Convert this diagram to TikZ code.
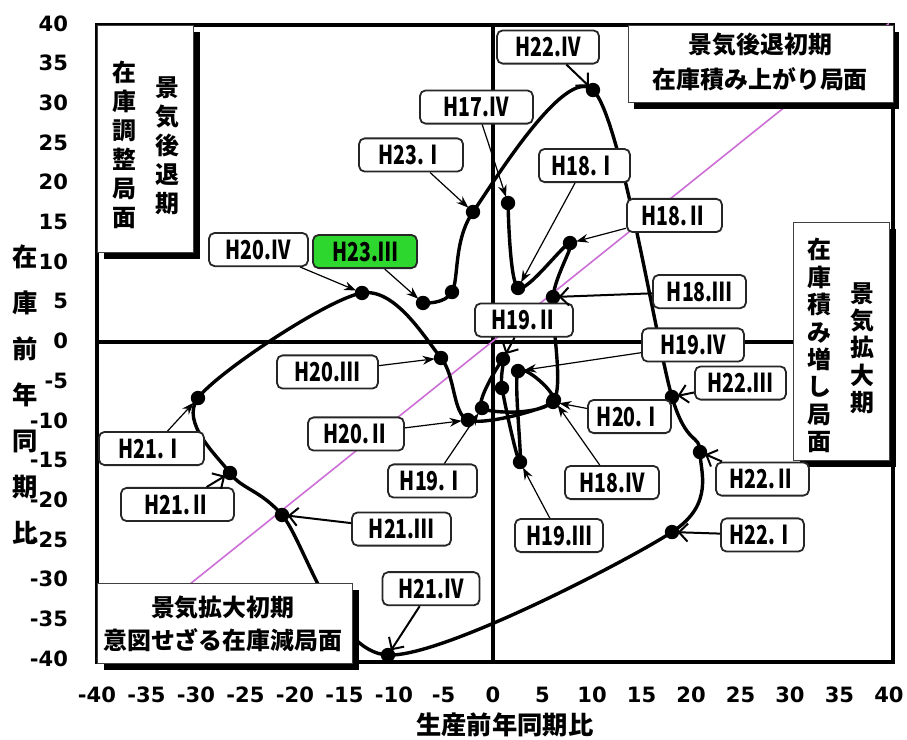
\documentclass[tikz,border=0pt]{standalone}
\usepackage{fontspec}
\setmainfont{DejaVu Sans}
\newfontfamily\jpfont{Noto Sans CJK JP}
\newfontfamily\jpnarrow[FakeStretch=0.75]{Noto Sans CJK JP}
\usetikzlibrary{arrows.meta,shadows}
\definecolor{diagline}{RGB}{205,110,215}
\definecolor{nowgreen}{RGB}{45,215,45}

\tikzset{
  qbox/.style={draw=black!85, line width=0.45mm, rounded corners=1.4mm, fill=white,
    minimum height=8.3mm, inner xsep=0.8mm, inner ysep=0pt,
    font=\jpnarrow\bfseries\fontsize{18.5}{20}\selectfont},
  phasebox/.style={draw=black!75, line width=0.3mm, fill=white, inner sep=0pt,
    anchor=north west,
    general shadow={fill=black, shadow xshift=1.5mm, shadow yshift=-1.5mm}},
  phasetext/.style={font=\jpfont\bfseries\fontsize{17}{#1}\selectfont,
    align=center, inner sep=0pt},
  lead/.style={line width=0.3mm, -{Stealth[length=3mm, width=2.2mm]}, shorten >=1.6mm},
  leadbarb/.style={line width=0.5mm, -{Straight Barb[length=2.2mm, width=4.5mm]}, shorten >=1.4mm},
  trend/.style={line width=0.85mm, line join=round},
  ytick/.style={anchor=east, inner sep=0pt, font=\bfseries\fontsize{15}{15}\selectfont},
  xtick/.style={inner sep=0pt, font=\bfseries\fontsize{15}{15}\selectfont},
  axtitle/.style={inner sep=0pt, align=center, font=\jpfont\bfseries\fontsize{18}{#1}\selectfont},
}

\begin{document}
\begin{tikzpicture}[x=2.475mm, y=1.985mm]
\useasboundingbox (-49.8,-50.25) rectangle (41.82,42.95);

% frame, axes and the 45 degree line
\draw[line width=1mm] (-40,-40.4) rectangle (40.4,39.8);
\draw[line width=1mm] (-40,-0.1) -- (40.4,-0.1);
\draw[line width=1mm] (0,-40.4) -- (0,39.8);
\draw[diagline, line width=0.4mm] (-40,-40) -- (40,40);

% tick labels
\foreach \v in {-40,-35,...,40} {
  \node[ytick] (yt\v) at (-42.9,\v) {\v};
  \node[xtick] (xt\v) at (\v,-44.6) {\v};
}
\node[axtitle=32.7pt] (ytitle) at (-47.3,-6.74) {在\\庫\\前\\年\\同\\期\\比};
\node[axtitle=20pt] (xtitle) at (1.2,-48.4) {生産前年同期比};

% quarterly points
\coordinate (p-17-4) at (1.52,17.38);
\coordinate (p-18-1) at (2.53,6.68);
\coordinate (p-18-2) at (7.78,12.34);
\coordinate (p-18-3) at (6.06,5.54);
\coordinate (p-18-4) at (6.16,-7.43);
\coordinate (p-19-1) at (-1.11,-8.44);
\coordinate (p-19-2) at (1.01,-2.27);
\coordinate (p-19-2b) at (0.91,-5.92);
\coordinate (p-19-3) at (2.73,-15.24);
\coordinate (p-19-4) at (2.53,-3.78);
\coordinate (p-20-1) at (6.06,-7.68);
\coordinate (p-20-2) at (-2.53,-9.95);
\coordinate (p-20-3) at (-5.25,-2.14);
\coordinate (p-20-4) at (-13.23,6.05);
\coordinate (p-21-1) at (-29.8,-7.18);
\coordinate (p-21-2) at (-26.57,-16.62);
\coordinate (p-21-3) at (-21.31,-21.91);
\coordinate (p-21-4) at (-10.61,-39.55);
\coordinate (p-22-1) at (18.08,-24.06);
\coordinate (p-22-2) at (20.91,-13.98);
\coordinate (p-22-3) at (18.08,-7.05);
\coordinate (p-22-4) at (10.10,31.61);
\coordinate (p-23-1) at (-2.02,16.25);
\coordinate (p-23-2) at (-4.14,6.17);
\coordinate (p-23-3) at (-7.07,4.79);

\draw[trend] plot[smooth, tension=0.5] coordinates {(p-17-4) (p-18-1) (p-18-2) (p-18-3)
  (p-18-4) (p-19-1) (p-19-2) (p-19-2b) (p-19-3) (p-19-4) (p-20-1) (p-20-2) (p-20-3)
  (p-20-4) (p-21-1) (p-21-2) (p-21-3) (p-21-4) (p-22-1) (p-22-2) (p-22-3) (p-22-4)
  (p-23-1) (p-23-2) (p-23-3)};
\foreach \p in {17-4,18-1,18-2,18-3,18-4,19-1,19-2,19-2b,19-3,19-4,20-1,20-2,20-3,20-4,
  21-1,21-2,21-3,21-4,22-1,22-2,22-3,22-4,23-1,23-2,23-3}
  \fill (p-\p) circle[radius=1.8mm];

% phase boxes
\node[phasebox, minimum width=24mm, minimum height=56.75mm] (ph-tl) at (-40,39.8) {};
\node[phasetext=20.6pt] (ph-tl-a) at (-32.9,24.6) {景\\気\\後\\退\\期};
\node[phasetext=20.6pt] (ph-tl-b) at (-37.2,24.7) {在\\庫\\調\\整\\局\\面};
\node[phasebox, minimum width=66.25mm, minimum height=19.25mm] (ph-tr) at (13.6,39.8) {};
\node[phasetext=24.8pt] (ph-tr-a) at (27.0,35.1) {景気後退初期\\在庫積み上がり局面};
\node[phasebox, minimum width=24mm, minimum height=59.5mm] (ph-rm) at (30.3,15.0) {};
\node[phasetext=19.5pt] (ph-rm-a) at (37.3,-0.9) {景\\気\\拡\\大\\期};
\node[phasetext=19.5pt] (ph-rm-b) at (33.0,-0.6) {在\\庫\\積\\み\\増\\し\\局\\面};
\node[phasebox, minimum width=63.75mm, minimum height=20mm] (ph-bl) at (-40,-30.5) {};
\node[phasetext=23.4pt] (ph-bl-a) at (-27.3,-35.6) {景気拡大初期\\意図せざる在庫減局面};

% quarter labels
\node[qbox, minimum width=25.5mm] (l-22-4) at (5.56,37.03) {H22.Ⅳ};
\node[qbox, minimum width=28.25mm] (l-17-4) at (-1.67,29.47) {H17.Ⅳ};
\node[qbox, minimum width=26mm] (l-23-1) at (-8.28,23.43) {H23.Ⅰ};
\node[qbox, minimum width=22.75mm] (l-18-1) at (9.24,22.1) {H18.Ⅰ};
\node[qbox, minimum width=23.75mm] (l-18-2) at (18.33,15.81) {H18.Ⅱ};
\node[qbox, minimum width=23.25mm] (l-18-3) at (20.86,6.23) {H18.Ⅲ};
\node[qbox, minimum width=24.75mm] (l-20-4) at (-23.69,11.52) {H20.Ⅳ};
\node[qbox, minimum width=26mm, fill=nowgreen] (l-23-3) at (-12.93,11.27) {H23.Ⅲ};
\node[qbox, minimum width=24.5mm] (l-19-2) at (3.13,2.64) {H19.Ⅱ};
\node[qbox, minimum width=25.5mm] (l-19-4) at (20.2,-0.5) {H19.Ⅳ};
\node[qbox, minimum width=25.25mm] (l-20-3) at (-16.72,-3.9) {H20.Ⅲ};
\node[qbox, minimum width=22.75mm] (l-22-3) at (25.0,-5.29) {H22.Ⅲ};
\node[qbox, minimum width=20.75mm] (l-20-1) at (13.79,-9.51) {H20.Ⅰ};
\node[qbox, minimum width=24mm] (l-20-2) at (-13.84,-11.71) {H20.Ⅱ};
\node[qbox, minimum width=26.25mm] (l-21-1) at (-34.5,-13.54) {H21.Ⅰ};
\node[qbox, minimum width=23.25mm] (l-22-2) at (27.22,-17.38) {H22.Ⅱ};
\node[qbox, minimum width=22.25mm] (l-19-1) at (-6.11,-17.63) {H19.Ⅰ};
\node[qbox, minimum width=23.5mm] (l-18-4) at (12.02,-17.82) {H18.Ⅳ};
\node[qbox, minimum width=28.25mm] (l-21-2) at (-31.87,-20.59) {H21.Ⅱ};
\node[qbox, minimum width=24.75mm] (l-21-3) at (-9.24,-23.68) {H21.Ⅲ};
\node[qbox, minimum width=20.75mm] (l-22-1) at (27.22,-24.43) {H22.Ⅰ};
\node[qbox, minimum width=22mm] (l-19-3) at (6.67,-24.5) {H19.Ⅲ};
\node[qbox, minimum width=24.25mm] (l-21-4) at (-6.26,-31.2) {H21.Ⅳ};

% leader arrows
\draw[leadbarb] (l-22-4) -- (p-22-4);
\draw[lead] (l-17-4) -- (p-17-4);
\draw[lead] (l-23-1) -- (p-23-1);
\draw[lead] (l-18-1) -- (p-18-1);
\draw[lead] (l-18-2) -- (p-18-2);
\draw[leadbarb] (l-18-3) -- (p-18-3);
\draw[lead] (l-20-4) -- (p-20-4);
\draw[lead] (l-23-3) -- (p-23-3);
\draw[leadbarb] (l-19-2) -- (p-19-2);
\draw[lead] (l-19-4) -- (p-19-4);
\draw[lead] (l-20-3) -- (p-20-3);
\draw[leadbarb] (l-22-3) -- (p-22-3);
\draw[lead] (l-20-1) -- (p-20-1);
\draw[lead] (l-20-2) -- (p-20-2);
\draw[lead] (l-21-1) -- (p-21-1);
\draw[leadbarb] (l-22-2) -- (p-22-2);
\draw[lead] (l-19-1) -- (p-19-1);
\draw[lead] (l-18-4) -- (p-18-4);
\draw[leadbarb] (l-21-2) -- (p-21-2);
\draw[leadbarb] (l-21-3) -- (p-21-3);
\draw[leadbarb] (l-22-1) -- (p-22-1);
\draw[lead] (l-19-3) -- (p-19-3);
\draw[leadbarb] (l-21-4) -- (p-21-4);
\end{tikzpicture}
\end{document}
